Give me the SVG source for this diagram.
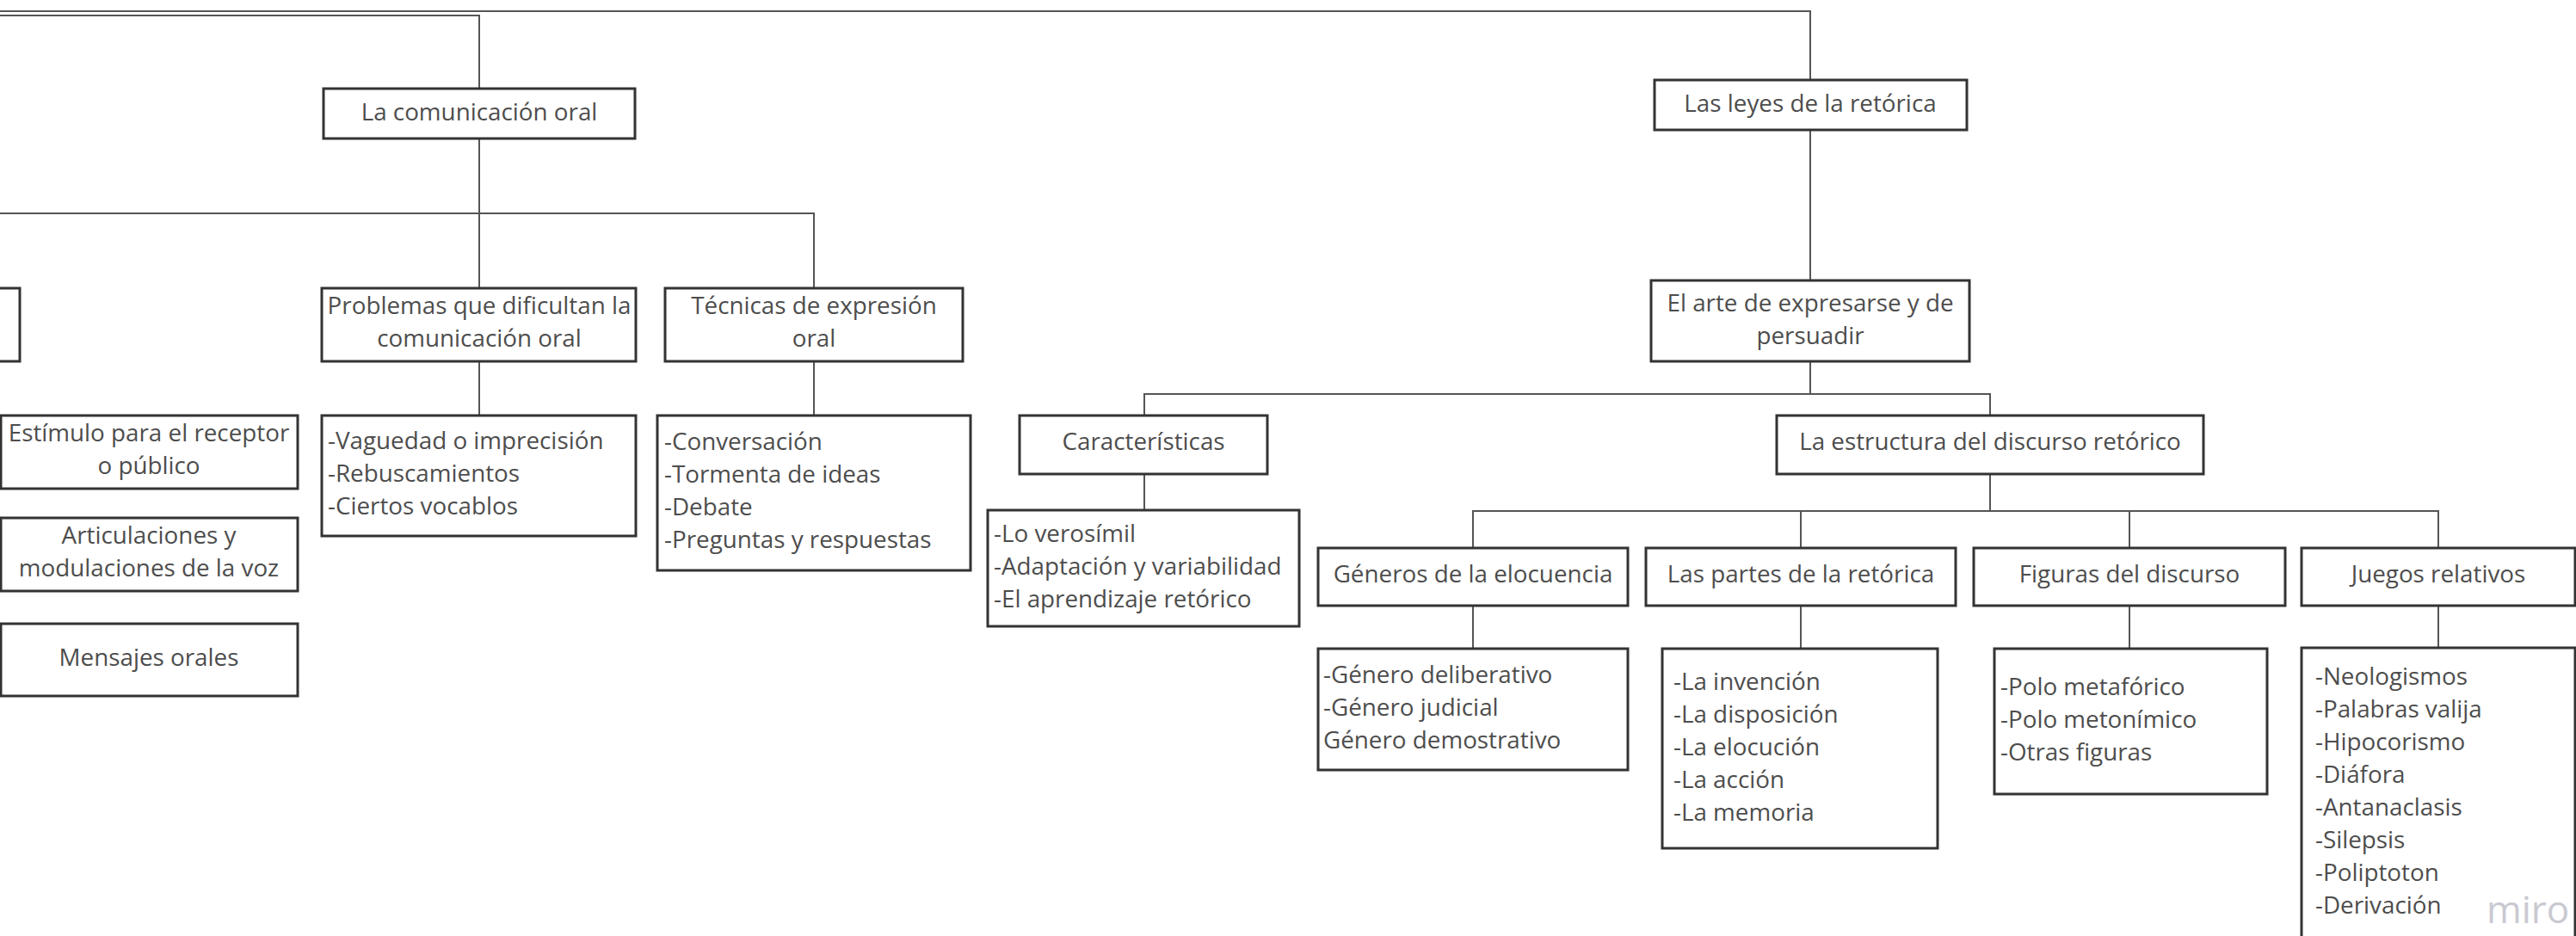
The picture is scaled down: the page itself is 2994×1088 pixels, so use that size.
<svg xmlns="http://www.w3.org/2000/svg" width="2994" height="1088" viewBox="0 0 2994 1088">
<style>
.box{fill:#fff;stroke:#333;stroke-width:3}
.cn{fill:none;stroke:#555;stroke-width:2}
text{font-family:"Open Sans","Liberation Sans",sans-serif;font-size:27.8px;fill:#4d4d4d}
.c{text-anchor:middle}
.wm{font-size:44px;fill:#c9c9d1}
</style>
<rect width="2994" height="1088" fill="#fff"/>
<g id="connectors">
<path class="cn" d="M0 13 H2104 V93"/>
<path class="cn" d="M0 18 H557 V103"/>
<path class="cn" d="M557 161 V248"/>
<path class="cn" d="M0 248 H946 V335"/>
<path class="cn" d="M557 248 V335"/>
<path class="cn" d="M557 420 V483"/>
<path class="cn" d="M946 420 V483"/>
<path class="cn" d="M2104 151 V326"/>
<path class="cn" d="M2104 420 V458"/>
<path class="cn" d="M1330 483 V458 H2313 V483"/>
<path class="cn" d="M1330 551 V593"/>
<path class="cn" d="M2313 551 V594"/>
<path class="cn" d="M1712 637 V594 H2834 V637"/>
<path class="cn" d="M2093 594 V637"/>
<path class="cn" d="M2475 594 V637"/>
<path class="cn" d="M1712 704 V754"/>
<path class="cn" d="M2093 704 V754"/>
<path class="cn" d="M2475 704 V754"/>
<path class="cn" d="M2834 704 V753"/>
</g>
<g id="n-comunicacion">
<rect class="box" x="376" y="103" width="362" height="58"/>
<text class="c" x="557" y="140">La comunicación oral</text>
</g>
<g id="n-partial-left">
<rect class="box" x="-200" y="335" width="223" height="85"/>
</g>
<g id="n-problemas">
<rect class="box" x="374" y="335" width="365" height="85"/>
<text class="c" x="557" y="365">Problemas que dificultan la</text>
<text class="c" x="557" y="403">comunicación oral</text>
</g>
<g id="n-tecnicas">
<rect class="box" x="773" y="335" width="346" height="85"/>
<text class="c" x="946" y="365">Técnicas de expresión</text>
<text class="c" x="946" y="403">oral</text>
</g>
<g id="n-problemas-list">
<rect class="box" x="374" y="483" width="365" height="140"/>
<text x="381" y="522">-Vaguedad o imprecisión</text>
<text x="381" y="560">-Rebuscamientos</text>
<text x="381" y="598">-Ciertos vocablos</text>
</g>
<g id="n-tecnicas-list">
<rect class="box" x="764" y="483" width="364" height="180"/>
<text x="772" y="523">-Conversación</text>
<text x="772" y="561">-Tormenta de ideas</text>
<text x="772" y="599">-Debate</text>
<text x="772" y="637">-Preguntas y respuestas</text>
</g>
<g id="n-estimulo">
<rect class="box" x="1" y="483" width="345" height="85"/>
<text class="c" x="173" y="513">Estímulo para el receptor</text>
<text class="c" x="173" y="551">o público</text>
</g>
<g id="n-articulaciones">
<rect class="box" x="1" y="602" width="345" height="85"/>
<text class="c" x="173" y="632">Articulaciones y</text>
<text class="c" x="173" y="670">modulaciones de la voz</text>
</g>
<g id="n-mensajes">
<rect class="box" x="1" y="725" width="345" height="84"/>
<text class="c" x="173" y="774">Mensajes orales</text>
</g>
<g id="n-leyes">
<rect class="box" x="1923" y="93" width="363" height="58"/>
<text class="c" x="2104" y="130">Las leyes de la retórica</text>
</g>
<g id="n-arte">
<rect class="box" x="1919" y="326" width="370" height="94"/>
<text class="c" x="2104" y="362">El arte de expresarse y de</text>
<text class="c" x="2104" y="400">persuadir</text>
</g>
<g id="n-caracteristicas">
<rect class="box" x="1185" y="483" width="288" height="68"/>
<text class="c" x="1329" y="523">Características</text>
</g>
<g id="n-caracteristicas-list">
<rect class="box" x="1148" y="593" width="362" height="135"/>
<text x="1155" y="630">-Lo verosímil</text>
<text x="1155" y="668">-Adaptación y variabilidad</text>
<text x="1155" y="706">-El aprendizaje retórico</text>
</g>
<g id="n-estructura">
<rect class="box" x="2065" y="483" width="496" height="68"/>
<text class="c" x="2313" y="523">La estructura del discurso retórico</text>
</g>
<g id="n-generos">
<rect class="box" x="1532" y="637" width="360" height="67"/>
<text class="c" x="1712" y="677">Géneros de la elocuencia</text>
</g>
<g id="n-partes">
<rect class="box" x="1913" y="637" width="360" height="67"/>
<text class="c" x="2093" y="677">Las partes de la retórica</text>
</g>
<g id="n-figuras">
<rect class="box" x="2294" y="637" width="362" height="67"/>
<text class="c" x="2475" y="677">Figuras del discurso</text>
</g>
<g id="n-juegos">
<rect class="box" x="2675" y="637" width="318" height="67"/>
<text class="c" x="2834" y="677">Juegos relativos</text>
</g>
<g id="n-generos-list">
<rect class="box" x="1532" y="754" width="360" height="141"/>
<text x="1538" y="794">-Género deliberativo</text>
<text x="1538" y="832">-Género judicial</text>
<text x="1538" y="870">Género demostrativo</text>
</g>
<g id="n-partes-list">
<rect class="box" x="1932" y="754" width="320" height="232"/>
<text x="1945" y="802">-La invención</text>
<text x="1945" y="840">-La disposición</text>
<text x="1945" y="878">-La elocución</text>
<text x="1945" y="916">-La acción</text>
<text x="1945" y="954">-La memoria</text>
</g>
<g id="n-figuras-list">
<rect class="box" x="2318" y="754" width="317" height="169"/>
<text x="2325" y="808">-Polo metafórico</text>
<text x="2325" y="846">-Polo metonímico</text>
<text x="2325" y="884">-Otras figuras</text>
</g>
<g id="n-juegos-list">
<rect class="box" x="2675" y="753" width="318" height="360"/>
<text x="2691" y="796">-Neologismos</text>
<text x="2691" y="834">-Palabras valija</text>
<text x="2691" y="872">-Hipocorismo</text>
<text x="2691" y="910">-Diáfora</text>
<text x="2691" y="948">-Antanaclasis</text>
<text x="2691" y="986">-Silepsis</text>
<text x="2691" y="1024">-Poliptoton</text>
<text x="2691" y="1062">-Derivación</text>
</g>
<text class="wm" x="2890" y="1073">miro</text>
</svg>
